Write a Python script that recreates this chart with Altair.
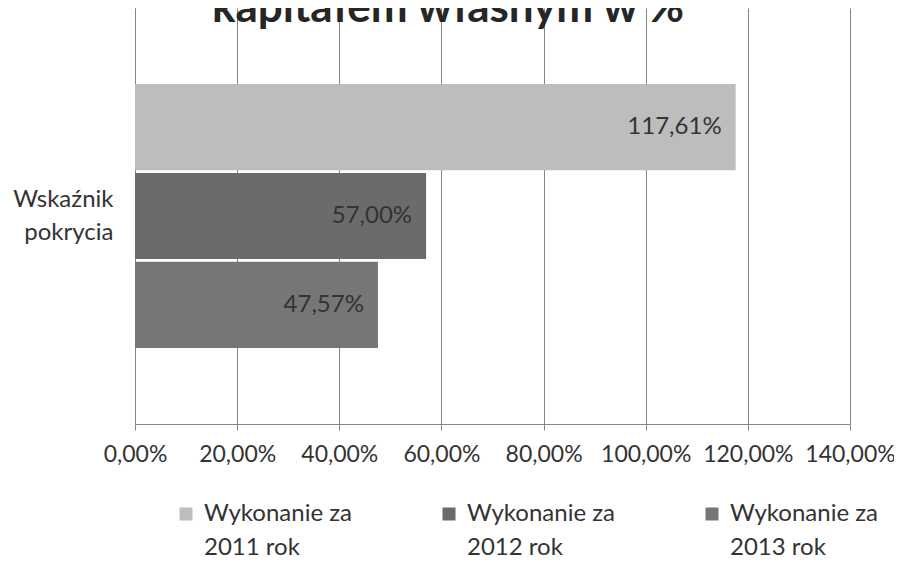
import altair as alt
import pandas as pd

# ---- data ----
categories = ["Wskaźnik pokrycia"]
series = ["Wykonanie za 2011 rok", "Wykonanie za 2012 rok", "Wykonanie za 2013 rok"]
values = [1.1761, 0.5700, 0.4757]
value_labels = ["117,61%", "57,00%", "47,57%"]
colors = ["#bdbdbd", "#6b6b6b", "#767676"]
tick_values = [0, 0.2, 0.4, 0.6, 0.8, 1.0, 1.2, 1.4]
title_text = "kapitałem własnym w %"

df = pd.DataFrame({
    "kategoria": categories * len(series),
    "seria": series,
    "wartosc": values,
    "etykieta": value_labels,
})
title_df = pd.DataFrame({"tytul": [title_text]})

FONT = "Lato"
TXT = "#333333"

x_enc = alt.X(
    "wartosc:Q",
    title=None,
    scale=alt.Scale(domain=[0, 1.4], nice=False),
    axis=alt.Axis(
        values=tick_values,
        labelExpr="replace(format(datum.value, '.2%'), '.', ',')",
        labelFont=FONT, labelFontSize=23, labelColor=TXT, labelPadding=13,
        grid=True, gridColor="#858585", gridWidth=1,
        domainColor="#858585", tickColor="#858585", tickSize=6,
        labelFlush=False, labelOverlap=False,
    ),
)
y_enc = alt.Y(
    "kategoria:N",
    title=None,
    scale=alt.Scale(paddingOuter=0.288, paddingInner=0),
    axis=alt.Axis(
        labelExpr="split(datum.label, ' ')",
        labelFont=FONT, labelFontSize=24, labelLineHeight=33,
        labelColor=TXT, labelPadding=22, labelLimit=0, labelOffset=-16,
        ticks=False, domainColor="#858585", grid=False,
    ),
)
yoff_enc = alt.YOffset(
    "seria:N", sort=series,
    scale=alt.Scale(paddingInner=0.03, paddingOuter=0),
)

bars = alt.Chart(df).mark_bar().encode(
    x=x_enc,
    y=y_enc,
    yOffset=yoff_enc,
    color=alt.Color(
        "seria:N",
        scale=alt.Scale(domain=series, range=colors),
        legend=alt.Legend(
            title=None, orient="none", legendX=39, legendY=494,
            direction="horizontal", columns=3, columnPadding=84,
            labelExpr="[substring(datum.label, 0, 12), substring(datum.label, 13)]",
            labelFont=FONT, labelFontSize=24, labelColor=TXT, labelLimit=0,
            labelOffset=6, labelBaseline="middle",
            symbolType="square", symbolSize=169,
            symbolStrokeWidth=0, padding=0,
        ),
    ),
)

texts = alt.Chart(df).mark_text(
    align="right", baseline="middle", dx=-14,
    font=FONT, fontSize=24, color=TXT,
).encode(
    x="wartosc:Q",
    y="kategoria:N",
    yOffset=alt.YOffset("seria:N", sort=series),
    text="etykieta:N",
)

# chart title (its first line lies above the cropped picture)
title_mark = alt.Chart(title_df).mark_text(
    align="center", baseline="alphabetic",
    font=FONT, fontSize=44, fontWeight="bold", color="#262626",
).encode(
    x=alt.value(313),
    y=alt.value(14),
    text="tytul:N",
)

chart = alt.layer(bars, texts, title_mark).properties(
    width=715,
    height=416,
    autosize=alt.AutoSizeParams(type="none"),
    padding={"left": 127, "top": 0, "right": 44, "bottom": 139},
).configure(
    style={"guide-label": {"lineHeight": 34}},
).configure_view(stroke=None)

chart.save("out.html", embed_options={"renderer": "svg", "actions": False})
